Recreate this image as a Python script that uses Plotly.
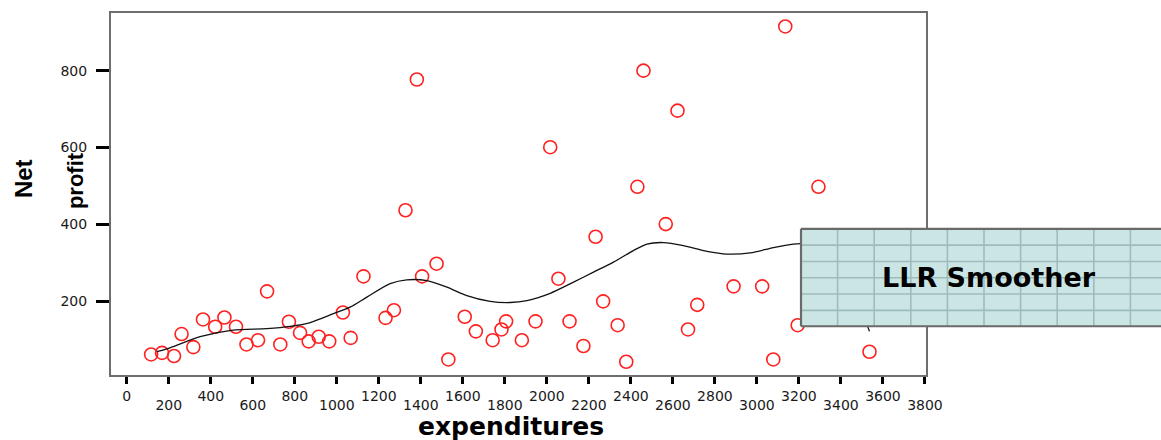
import plotly.graph_objects as go

# ---- data ----
expenditures = [116, 168, 225, 261, 317, 363, 465, 421, 520, 570, 625, 668, 731, 772, 825,
                866, 914, 964, 1029, 1066, 1127, 1232, 1272, 1327, 1381, 1406, 1475, 1531,
                1609, 1662, 1742, 1784, 1806, 1881, 1946, 2016, 2055, 2108, 2174, 2232, 2268,
                2337, 2378, 2431, 2460, 2566, 2622, 2672, 2716, 2889, 3025, 3078, 3135, 3194,
                3293, 3536]
net_profit = [62, 66, 58, 115, 81, 153, 158, 134, 134, 88, 99, 226, 88, 147, 118,
              96, 108, 96, 171, 105, 265, 157, 177, 437, 777, 265, 298, 49,
              160, 122, 99, 127, 148, 99, 148, 601, 259, 148, 84, 368, 200,
              138, 43, 498, 800, 401, 696, 127, 191, 239, 239, 49, 915, 138,
              498, 69]

smooth_x = [143, 206, 349, 506, 667, 778, 873, 984, 1063, 1143, 1254, 1333, 1429, 1524,
            1619, 1730, 1825, 1905, 2016, 2127, 2222, 2317, 2412, 2476, 2555, 2650, 2762,
            2857, 2968, 3079, 3174, 3214, 3330, 3440, 3536]
smooth_y = [69, 79, 108, 125, 129, 135, 145, 168, 185, 211, 246, 256, 254, 237,
            215, 200, 197, 202, 221, 250, 276, 302, 332, 349, 353, 345, 330,
            323, 326, 340, 349, 350, 345, 250, 122]

x_tick_vals = list(range(0, 4000, 200))
x_lower_vals = [v for v in x_tick_vals if v % 400 != 0]
x_lower_text = [str(v) for v in x_lower_vals]
y_tick_vals = [200, 400, 600, 800]
y_tick_text = ["200", "400", "600", "800"]

X_RANGE = [-75, 3805]
Y_RANGE = [8.5, 950]

W, H = 1161, 440
L, R, T, B = 111, 235, 11, 65
PW, PH = W - L - R, H - T - B


def px(xp):
    return (xp - L) / PW


def py(yp):
    return 1 - (yp - T) / PH


fig = go.Figure()
fig.add_trace(go.Scatter(
    x=expenditures, y=net_profit, mode="markers", name="data",
    marker=dict(symbol="circle-open", size=13, color="#ff2020",
                line=dict(width=1.6, color="#ff2020")),
    showlegend=False))
fig.add_trace(go.Scatter(
    x=smooth_x, y=smooth_y, mode="lines", name="LLR Smoother",
    line=dict(color="#111111", width=1.3, shape="spline", smoothing=0.8),
    showlegend=False))
# empty helper trace so that the second (lower-row label) x axis is drawn
fig.add_trace(go.Scatter(
    x=x_lower_vals, y=[None] * len(x_lower_vals), xaxis="x2", yaxis="y",
    mode="markers", marker=dict(opacity=0), hoverinfo="skip", showlegend=False))

tick_font = dict(family="DejaVu Sans", size=14, color="#1a1a1a")
axis_common = dict(showgrid=False, zeroline=False, showline=True, mirror=True,
                   linecolor="#6e6e6e", linewidth=2, ticks="outside",
                   tickcolor="#000000", tickwidth=3, tickfont=tick_font)

all_text = [str(v) if v % 400 == 0 else "" for v in x_tick_vals]
fig.update_layout(
    xaxis=dict(range=X_RANGE, tickmode="array", tickvals=x_tick_vals,
               ticktext=all_text, ticklen=7, tickangle=0,
               ticklabelstandoff=0, **axis_common),
    xaxis2=dict(range=X_RANGE, overlaying="x", anchor="y", side="bottom",
                tickmode="array", tickvals=x_lower_vals, ticktext=x_lower_text,
                ticks="", showline=False, showgrid=False, zeroline=False,
                tickangle=0, ticklabelstandoff=20, tickfont=tick_font),
    yaxis=dict(range=Y_RANGE, tickmode="array", tickvals=y_tick_vals,
               ticktext=y_tick_text, ticklen=13, ticklabelstandoff=6, **axis_common),
)

shapes = []
bx0, bx1, by0, by1 = 801, 1170, 228, 326
shapes.append(dict(type="rect", xref="paper", yref="paper", layer="above",
                   x0=px(bx0), x1=px(bx1), y0=py(by1), y1=py(by0),
                   fillcolor="#cbe4e4", line=dict(width=0)))
cw, ch = 36.6, 16.4
k = 1
while bx0 + k * cw < W:
    xx = bx0 + k * cw
    shapes.append(dict(type="line", xref="paper", yref="paper", layer="above",
                       x0=px(xx), x1=px(xx), y0=py(by1), y1=py(by0),
                       line=dict(color="#9dbcbc", width=1.6)))
    k += 1
k = 1
while by0 + k * ch < by1 - 4:
    yy = by0 + k * ch
    shapes.append(dict(type="line", xref="paper", yref="paper", layer="above",
                       x0=px(bx0), x1=px(bx1), y0=py(yy), y1=py(yy),
                       line=dict(color="#9dbcbc", width=1.6)))
    k += 1
for (xa, ya, xb, yb) in [(bx0, by0, bx0, by1), (bx0, by0, bx1, by0), (bx0, by1, bx1, by1)]:
    shapes.append(dict(type="line", xref="paper", yref="paper", layer="above",
                       x0=px(xa), x1=px(xb), y0=py(ya), y1=py(yb),
                       line=dict(color="#6a6a6a", width=2.2)))

annotations = [
    dict(text="LLR Smoother", xref="paper", yref="paper", x=px(989), y=py(277),
         showarrow=False, xanchor="center", yanchor="middle",
         font=dict(family="DejaVu Sans", size=27, color="#000000", weight="bold")),
    dict(text="expenditures", xref="paper", yref="paper", x=px(511), y=py(427),
         showarrow=False, xanchor="center", yanchor="middle",
         font=dict(family="DejaVu Sans", size=25, color="#000000", weight="bold")),
    dict(text="Net", xref="paper", yref="paper", x=px(23), y=py(178), textangle=-90,
         showarrow=False, xanchor="center", yanchor="middle",
         font=dict(family="Liberation Sans", size=24, color="#000000", weight="bold")),
    dict(text="profit", xref="paper", yref="paper", x=px(75), y=py(180), textangle=-90,
         showarrow=False, xanchor="center", yanchor="middle",
         font=dict(family="Liberation Sans", size=22, color="#000000", weight="bold")),
]

fig.update_layout(width=W, height=H, autosize=False,
                  margin=dict(l=L, r=R, t=T, b=B, pad=0),
                  paper_bgcolor="white", plot_bgcolor="white",
                  shapes=shapes, annotations=annotations, showlegend=False)

fig.write_html("out.html")
